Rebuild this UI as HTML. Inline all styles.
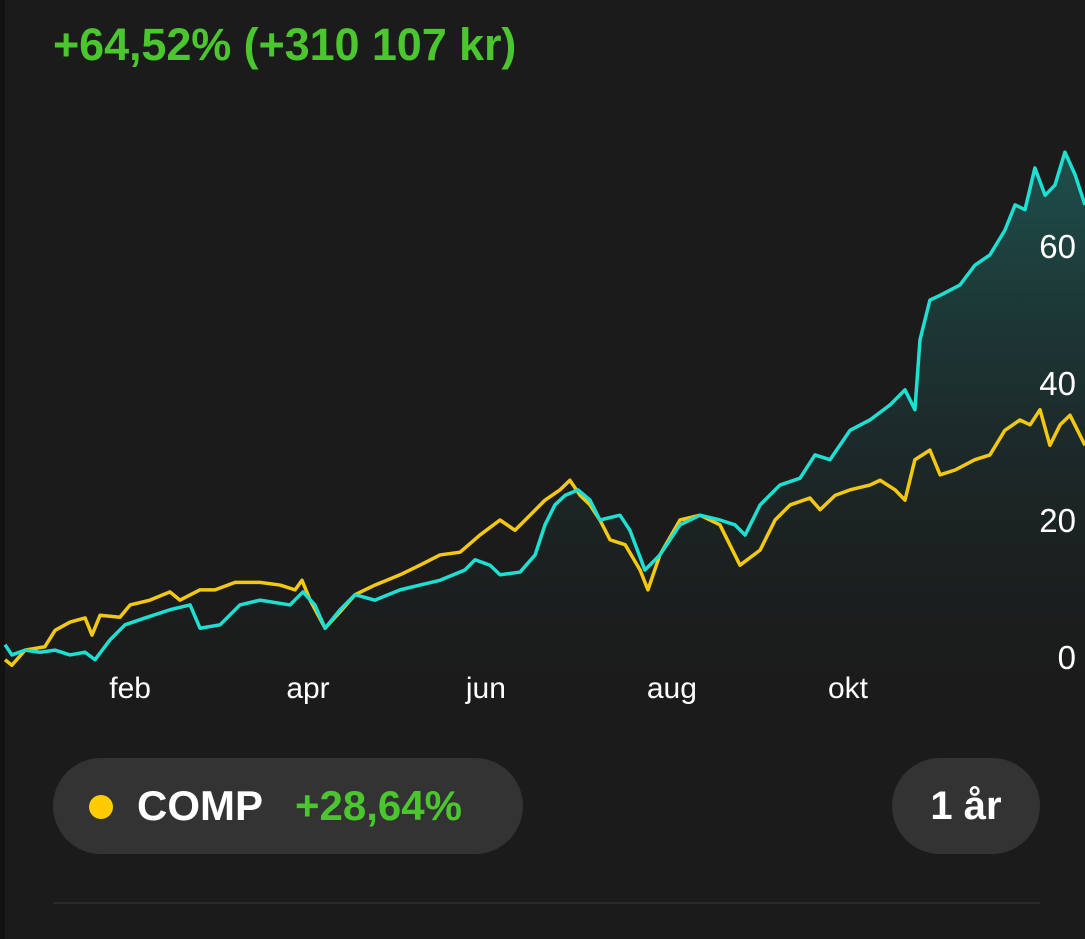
<!DOCTYPE html>
<html><head><meta charset="utf-8"><style>
html,body{margin:0;padding:0;background:#1b1b1b;width:1085px;height:939px;overflow:hidden;font-family:"Liberation Sans",sans-serif}
.strip{position:absolute;left:0;top:0;width:5px;height:939px;background:#121212}
.hdr{position:absolute;left:53px;top:20px;font-size:45px;line-height:50px;font-weight:bold;color:#4cc62e;letter-spacing:-0.1px}
.pill{position:absolute;top:758px;height:96px;background:#333;border-radius:48px}
.dot{position:absolute;left:36px;top:37px;width:24px;height:24px;border-radius:50%;background:#ffcc00}
.pt{position:absolute;top:24px;font-size:42px;line-height:48px;white-space:nowrap;font-weight:bold}
.div{position:absolute;left:53px;top:902px;width:987px;height:2px;background:#2a2a2a}
</style></head><body>
<div class="strip"></div>
<div class="hdr">+64,52% (+310 107 kr)</div>
<svg id="chart" width="1085" height="720" style="position:absolute;left:0;top:0">
<defs><linearGradient id="g" x1="0" y1="0" x2="0" y2="1">
<stop offset="0" stop-color="#1e5552" stop-opacity="0.9"/>
<stop offset="1" stop-color="#1b1b1b" stop-opacity="0.3"/></linearGradient></defs>
</svg>
<div class="pill" style="left:53px;width:470px">
<div class="dot"></div>
<div class="pt" style="left:84px;color:#fff;letter-spacing:0px">COMP</div>
<div class="pt" style="left:242px;color:#4cc62e;letter-spacing:0px">+28,64%</div>
</div>
<div class="pill" style="left:892px;width:148px">
<div class="pt" style="left:0;width:148px;text-align:center;color:#fff;font-size:40px">1 år</div>
</div>
<div class="div"></div>
<script>
const monthLabels=["feb","apr","jun","aug","okt"];
const monthDays=[41.7,101,160.3,222.3,281];
const yTicks=[0,20,40,60];
const compDays=[0,2.3,6.7,13.3,16.7,21.7,26.7,29,31.7,38.3,41.7,48.3,55,58.3,65,70,76.7,85,91.7,96.7,99,101.7,106.7,111.7,116.7,123.3,131.7,138.3,145,151.7,158.3,165,170,175,180,185,188.3,191.7,195,198.3,201.7,206.7,211.7,214.3,218.3,225,231.7,238.3,245,251.7,256.7,261.7,268.3,271.7,276.7,281.7,288.3,291.7,296.7,300,303.3,308.3,311.7,316.7,323.3,328.3,333.3,338.3,341.7,345,348.3,351.7,355,360];
const compValues=[-0.4,-1.2,1.0,1.5,3.9,5.1,5.7,3.2,6.1,5.8,7.6,8.3,9.5,8.3,9.8,9.8,10.9,10.9,10.5,9.8,11.2,8.3,4.2,6.6,9.1,10.5,12.0,13.4,14.9,15.3,17.8,20.0,18.5,20.7,22.9,24.4,25.8,23.6,22.2,20.0,17.1,16.4,12.7,9.8,14.9,20.0,20.7,19.3,13.4,15.6,20.0,22.2,23.2,21.5,23.6,24.4,25.1,25.8,24.4,22.9,28.8,30.2,26.6,27.3,28.8,29.5,33.1,34.6,33.9,36.1,30.9,33.9,35.3,30.9];
const portDays=[0,2.3,6.7,11.7,16.7,21.7,26.7,30,35,40,46.7,55,61.7,65,71.7,78.3,85,95,99.3,103.3,106.7,111.7,116.7,123.3,131.7,138.3,145,153.3,156.7,161.7,165,171.7,176.7,180,183.3,186.7,191,195,198.3,205,208.3,213.3,218.3,225,231.7,238.3,243.3,246.7,251.7,258.3,265,270,275,281.7,288.3,295,300,303.3,305,308.3,311.7,318.3,323.3,328.3,333.3,336.7,340,343.3,346.7,350,353.3,356.7,360];
const portValues=[1.8,0.3,1.0,0.7,1.0,0.3,0.7,-0.4,2.5,4.7,5.7,6.9,7.6,4.2,4.7,7.6,8.3,7.6,9.5,7.6,4.2,6.9,9.1,8.3,9.8,10.5,11.2,12.7,14.2,13.4,12.0,12.4,14.9,19.3,22.2,23.6,24.4,22.9,20.0,20.7,18.5,12.7,14.9,19.3,20.7,20.0,19.3,17.8,22.2,25.1,26.1,29.5,28.8,33.1,34.6,36.8,39.0,36.1,46.3,52.1,52.8,54.3,57.2,58.7,62.3,66.0,65.3,71.4,67.4,68.9,73.7,70.4,66.0];
const svg=document.getElementById('chart');const NS='http://www.w3.org/2000/svg';
const xS=d=>5+d*3;const yS=v=>657-v*6.85;
function mk(t,a){const e=document.createElementNS(NS,t);for(const k in a)e.setAttribute(k,a[k]);svg.appendChild(e);return e;}
const pp=portDays.map((d,i)=>xS(d)+','+yS(portValues[i]));
const area=mk('polygon',{points:pp.join(' ')+' '+xS(360)+',680 '+xS(0)+',680',fill:'url(#g)'});


yTicks.forEach(v=>{const t=mk('text',{x:1076,y:yS(v)+12,'text-anchor':'end',fill:'#fff','font-size':33,'font-family':'Liberation Sans, sans-serif'});t.textContent=v;

});
const cl=mk('polyline',{points:compDays.map((d,i)=>xS(d)+','+yS(compValues[i])).join(' '),fill:'none',stroke:'#f2c811','stroke-width':3.5,'stroke-linejoin':'round'});


const pl=mk('polyline',{points:pp.join(' '),fill:'none',stroke:'#1ee0d2','stroke-width':3.5,'stroke-linejoin':'round'});


monthLabels.forEach((m,i)=>{const t=mk('text',{x:xS(monthDays[i]),y:698,'text-anchor':'middle',fill:'#fff','font-size':30,'font-family':'Liberation Sans, sans-serif'});t.textContent=m;

});
</script>
</body></html>
